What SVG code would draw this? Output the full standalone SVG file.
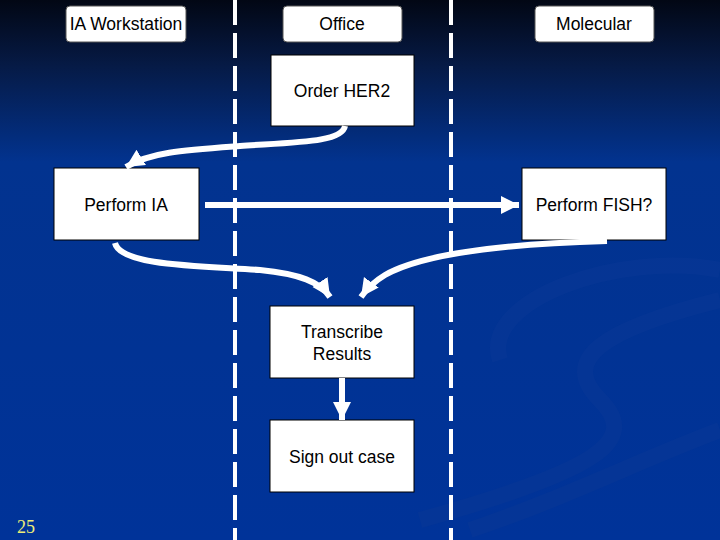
<svg xmlns="http://www.w3.org/2000/svg" width="720" height="540" viewBox="0 0 720 540">
<defs>
<linearGradient id="bg" x1="0" y1="0" x2="0" y2="1">
<stop offset="0" stop-color="#020714"/>
<stop offset="0.12" stop-color="#061a45"/>
<stop offset="0.3" stop-color="#02338f"/>
<stop offset="1" stop-color="#003399"/>
</linearGradient>
<marker id="ah" markerUnits="userSpaceOnUse" markerWidth="22" markerHeight="22" refX="18" refY="9" orient="auto">
<path d="M0,0 L18,9 L0,18 Z" fill="#ffffff"/>
</marker>
<style>
.lane{stroke:#ffffff;stroke-width:4;stroke-dasharray:25 8;fill:none}
.box{fill:#ffffff;stroke:#000000;stroke-width:1}
.hdr{fill:#ffffff;stroke:#555555;stroke-width:1}
.t{font-family:"Liberation Sans",Arial,sans-serif;font-size:17.5px;fill:#000000;text-anchor:middle}
.c{fill:none;stroke:#ffffff;stroke-width:6;marker-end:url(#ah)}
</style>
</defs>
<rect width="720" height="540" fill="url(#bg)"/>
<g id="swoosh" fill="none" stroke="#0a3896" stroke-width="16" opacity="0.5">
<path d="M720,300 C600,330 560,360 600,400 C640,440 600,470 420,520"/>
<path d="M720,430 C640,460 560,500 470,530"/>
<path d="M720,270 C620,250 480,300 500,360"/>
</g>
<g id="lanes">
<line class="lane" x1="235" y1="0" x2="235" y2="540"/>
<line class="lane" x1="451" y1="0" x2="451" y2="540"/>
</g>
<g id="hdr-ia"><rect class="hdr" x="66" y="6" width="120" height="36" rx="4"/><text class="t" x="126" y="30">IA Workstation</text></g>
<g id="hdr-office"><rect class="hdr" x="283" y="6" width="119" height="36" rx="4"/><text class="t" x="342" y="30">Office</text></g>
<g id="hdr-mol"><rect class="hdr" x="535" y="6" width="119" height="36" rx="4"/><text class="t" x="594" y="30">Molecular</text></g>
<g id="order"><rect class="box" x="271" y="55" width="143" height="71"/><text class="t" x="342" y="97">Order HER2</text></g>
<g id="performia"><rect class="box" x="54" y="168" width="145" height="72"/><text class="t" x="126" y="211">Perform IA</text></g>
<g id="fish"><rect class="box" x="522" y="168" width="144" height="72"/><text class="t" x="594" y="211">Perform FISH?</text></g>
<g id="transcribe"><rect class="box" x="270" y="306" width="144" height="72"/><text class="t" x="342" y="338">Transcribe</text><text class="t" x="342" y="360">Results</text></g>
<g id="signout"><rect class="box" x="270" y="420" width="144" height="72"/><text class="t" x="342" y="463">Sign out case</text></g>
<g id="connectors">
<path class="c" d="M345,126 C342,142 300,142 240,146 C185,150 150,152 126,167"/>
<path class="c" d="M205,205 L519,205"/>
<path class="c" d="M115,243 C120,266 200,266 260,270 C300,274 320,282 330,297"/>
<path class="c" d="M607,241 C500,244 420,255 385,275 C375,281 368,287 361,297"/>
<path class="c" d="M342,378 L342,420"/>
</g>
<text x="17" y="533" font-family="Liberation Serif,serif" font-size="18" fill="#eeee77">25</text>
</svg>
